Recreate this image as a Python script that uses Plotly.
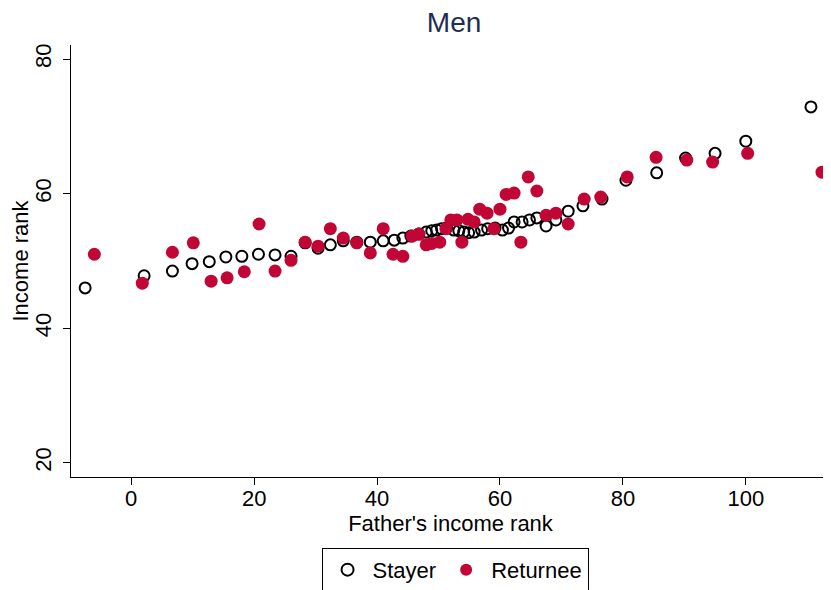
import plotly.graph_objects as go

stayer_x = [-7.5, 2.1, 6.7, 9.9, 12.7, 15.4, 18.0, 20.7, 23.4, 26.0, 28.3, 30.4, 32.4, 34.5,
            36.7, 38.9, 41.0, 42.8, 44.2, 45.5, 46.8, 48.0, 48.9, 49.7, 50.5, 51.3, 52.5, 53.3,
            54.1, 54.9, 55.8, 57.0, 58.0, 59.2, 60.4, 61.4, 62.3, 63.6, 64.8, 66.0, 67.5, 69.1,
            71.1, 73.5, 76.6, 80.5, 85.5, 90.2, 95.0, 100.0, 110.6]
stayer_y = [46.0, 47.8, 48.5, 49.6, 49.9, 50.6, 50.7, 51.0, 50.9, 50.7, 52.7, 51.9, 52.4, 53.0,
            52.8, 52.8, 53.0, 53.1, 53.4, 53.7, 54.0, 54.3, 54.5, 54.6, 54.8, 54.9, 54.6, 54.5,
            54.3, 54.2, 54.3, 54.6, 54.8, 54.9, 54.6, 54.9, 55.8, 55.8, 56.1, 56.4, 55.2, 56.1,
            57.4, 58.2, 59.2, 62.0, 63.1, 65.3, 66.0, 67.8, 72.9]

returnee_x = [-6.0, 1.8, 6.7, 10.1, 13.0, 15.6, 18.4, 20.8, 23.4, 26.0, 28.3, 30.4, 32.4, 34.5,
              36.7, 38.9, 41.0, 42.6, 44.2, 45.7, 46.8, 48.0, 48.9, 50.2, 51.2, 52.0, 53.0, 53.8,
              54.8, 55.8, 56.7, 57.9, 59.0, 60.0, 61.0, 62.3, 63.4, 64.6, 66.0, 67.5, 69.1, 71.1,
              73.7, 76.4, 80.7, 85.4, 90.4, 94.6, 100.3, 112.4]
returnee_y = [51.0, 46.7, 51.3, 52.7, 47.0, 47.5, 48.4, 55.5, 48.5, 50.1, 52.8, 52.2, 54.8, 53.4,
              52.7, 51.2, 54.8, 51.0, 50.7, 53.7, 54.0, 52.4, 52.6, 52.8, 54.8, 56.1, 56.1, 52.8,
              56.2, 55.8, 57.7, 57.1, 54.8, 57.7, 59.9, 60.1, 52.8, 62.5, 60.4, 56.8, 57.1, 55.5,
              59.2, 59.5, 62.5, 65.4, 65.0, 64.7, 66.0, 63.2]

x_ticks = [0, 20, 40, 60, 80, 100]
y_ticks = [20, 40, 60, 80]

FONT = "Liberation Sans, Arial, sans-serif"

fig = go.Figure()
fig.add_trace(go.Scatter(
    x=stayer_x, y=stayer_y, mode="markers", name="Stayer", cliponaxis=False,
    marker=dict(symbol="circle-open", size=11, color="black", line=dict(width=2, color="black")),
))
fig.add_trace(go.Scatter(
    x=returnee_x, y=returnee_y, mode="markers", name="Returnee", cliponaxis=False,
    marker=dict(symbol="circle", size=13, color="#C10534", line=dict(width=0)),
))

# the page body has an 8px margin, so the figure is sized to end at the window edge
fig.update_layout(
    width=823, height=582,
    margin=dict(l=63, r=1, t=37, b=113, autoexpand=False),
    paper_bgcolor="white", plot_bgcolor="white",
    font=dict(family=FONT, size=22, color="black"),
    title=dict(text="Men", x=0.542, xanchor="center", y=0.976, yanchor="middle",
               font=dict(family=FONT, size=28, color="#1E2D53")),
    showlegend=True,
    legend=dict(orientation="h", x=0.506, xanchor="center", y=-0.164, yanchor="top",
                bordercolor="black", borderwidth=1, font=dict(size=22),
                itemsizing="constant", itemwidth=40, tracegroupgap=0),
    xaxis=dict(range=[-9.8, 113.7], tickvals=x_ticks, showgrid=False, zeroline=False,
               showline=True, linecolor="black", linewidth=1, automargin=False,
               ticks="outside", ticklen=7, tickcolor="black", ticklabelstandoff=-5,
               tickfont=dict(size=22),
               title=dict(text="Father's income rank", font=dict(size=22), standoff=1)),
    yaxis=dict(range=[17.9, 82.1], tickvals=y_ticks, showgrid=False, zeroline=False,
               showline=True, linecolor="black", linewidth=1, automargin=False,
               ticks="outside", ticklen=7, tickcolor="black", ticklabelstandoff=3,
               tickangle=-90, tickfont=dict(size=22),
               title=dict(text="Income rank", font=dict(size=22), standoff=0)),
)

fig.write_html("out.html")
